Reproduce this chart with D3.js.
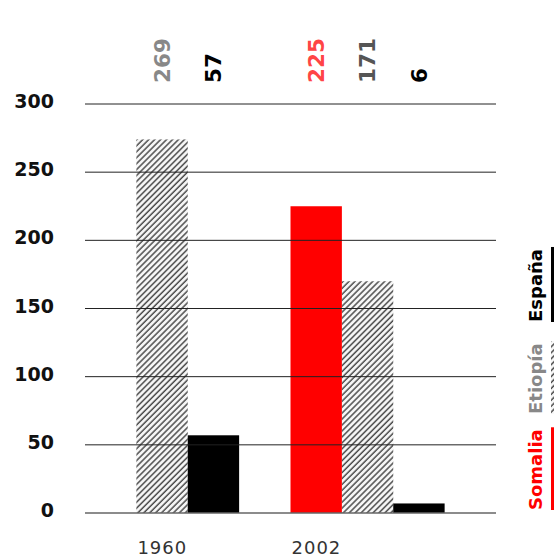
<!DOCTYPE html>
<html>
<head>
<meta charset="utf-8">
<script src="https://cdn.jsdelivr.net/npm/d3@7"></script>
<style>
  body { margin: 0; background: #fff; }
  text { font-family: "DejaVu Sans", sans-serif; }
</style>
</head>
<body>
<div id="chart"></div>
<script>
const years = ["1960", "2002"];
const countries = ["Somalia", "Etiopía", "España"];
// bar values per country, in the order of years (null = no bar)
const somalia = [null, 225];
const etiopia = [274, 170];
const espana = [57, 7];
// numbers printed above the bars
const labelsSomalia = [null, "225"];
const labelsEtiopia = ["269", "171"];
const labelsEspana = ["57", "6"];
const yTicks = [0, 50, 100, 150, 200, 250, 300];

const width = 555, height = 557;

const svg = d3.select("#chart")
    .append("svg")
    .attr("width", width)
    .attr("height", height);

// hatch pattern for Etiopía (light gaps, so gridlines show through)
const hatch = svg.append("defs").append("pattern")
    .attr("id", "hatch")
    .attr("patternUnits", "userSpaceOnUse")
    .attr("width", 4.2)
    .attr("height", 4.2)
    .attr("patternTransform", "rotate(45)");
hatch.append("rect")
    .attr("width", 4.2).attr("height", 4.2)
    .attr("fill", "#f4f4f4")
    .attr("fill-opacity", 0.6);
hatch.append("line")
    .attr("x1", 1).attr("y1", 0)
    .attr("x2", 1).attr("y2", 4.2)
    .attr("stroke", "#4a4a4a")
    .attr("stroke-width", 1.5);

const colors = { "Somalia": "#ff0000", "Etiopía": "url(#hatch)", "España": "#000" };
const labelColors = { "Somalia": ["#ff4545", "#ff4545"], "Etiopía": ["#888", "#555"], "España": ["#000", "#000"] };
const legendColors = { "Somalia": "#ff0000", "Etiopía": "#888", "España": "#000" };

const data = years.map((yr, i) => ({
    year: yr,
    bars: [
        { country: "Somalia", value: somalia[i], label: labelsSomalia[i] },
        { country: "Etiopía", value: etiopia[i], label: labelsEtiopia[i] },
        { country: "España", value: espana[i], label: labelsEspana[i] }
    ]
}));

const x0 = d3.scaleBand()
    .domain(years)
    .range([85, 496]);

const x1 = d3.scaleBand()
    .domain(countries)
    .range([0, x0.bandwidth() * 3 / 4]);

const y = d3.scaleLinear()
    .domain([0, 300])
    .range([513, 104]);

const groups = svg.selectAll(".group")
    .data(data)
    .enter()
    .append("g")
    .attr("class", "group")
    .attr("transform", d => `translate(${x0(d.year)},0)`);

function drawBars(filter) {
    groups.append("g")
        .selectAll("rect")
        .data(d => d.bars.filter(b => b.value != null && filter(b)))
        .enter()
        .append("rect")
        .attr("x", d => x1(d.country))
        .attr("width", x1.bandwidth())
        .attr("y", d => y(d.value))
        .attr("height", d => y(0) - y(d.value))
        .attr("fill", d => colors[d.country]);
}

// hatched bars below the gridlines, solid bars above
drawBars(b => b.country === "Etiopía");

svg.append("g")
    .selectAll("line")
    .data(yTicks.filter(d => d > 0))
    .enter()
    .append("line")
    .attr("x1", 85)
    .attr("x2", 496)
    .attr("y1", d => y(d))
    .attr("y2", d => y(d))
    .attr("stroke", "#222")
    .attr("stroke-width", 1);

drawBars(b => b.country !== "Etiopía");

// y labels
svg.append("g")
    .selectAll("text")
    .data(yTicks)
    .enter()
    .append("text")
    .attr("x", 54)
    .attr("y", d => y(d) + 4)
    .attr("text-anchor", "end")
    .attr("font-weight", "bold")
    .attr("font-size", "19px")
    .attr("fill", "#111")
    .text(d => d);

// value labels on top
groups.each(function(g, gi) {
    d3.select(this).selectAll(".val")
        .data(g.bars.filter(b => b.label != null))
        .enter()
        .append("text")
        .attr("class", "val")
        .attr("transform", d => `translate(${x1(d.country) + x1.bandwidth() / 2},83) rotate(-90)`)
        .attr("dy", "0.36em")
        .attr("font-weight", "bold")
        .attr("font-size", "21.5px")
        .attr("fill", d => labelColors[d.country][gi])
        .text(d => d.label);
});

// year labels
groups.append("text")
    .attr("x", d => x1(d.bars.find(b => b.value != null).country) + 1)
    .attr("y", 554)
    .attr("font-size", "18px")
    .attr("letter-spacing", "1px")
    .attr("fill", "#333")
    .text(d => d.year);

// baseline
svg.append("line")
    .attr("x1", 85)
    .attr("x2", 496)
    .attr("y1", y(0))
    .attr("y2", y(0))
    .attr("stroke", "#666")
    .attr("stroke-width", 1.5);

// legend
const legendBottoms = [510, 414, 322];
const legend = svg.append("g")
    .selectAll("g")
    .data(countries)
    .enter()
    .append("g")
    .attr("transform", (d, i) => `translate(542,${legendBottoms[i]})`);

legend.append("text")
    .attr("transform", "rotate(-90)")
    .attr("font-weight", "bold")
    .attr("font-size", "18px")
    .attr("fill", d => legendColors[d])
    .text(d => d);

legend.each(function(d) {
    const g = d3.select(this);
    const len = g.select("text").node().getComputedTextLength();
    g.append("rect")
        .attr("x", 9)
        .attr("y", -len - 2)
        .attr("width", 3)
        .attr("height", len + 2)
        .attr("fill", colors[d]);
});
</script>
</body>
</html>
